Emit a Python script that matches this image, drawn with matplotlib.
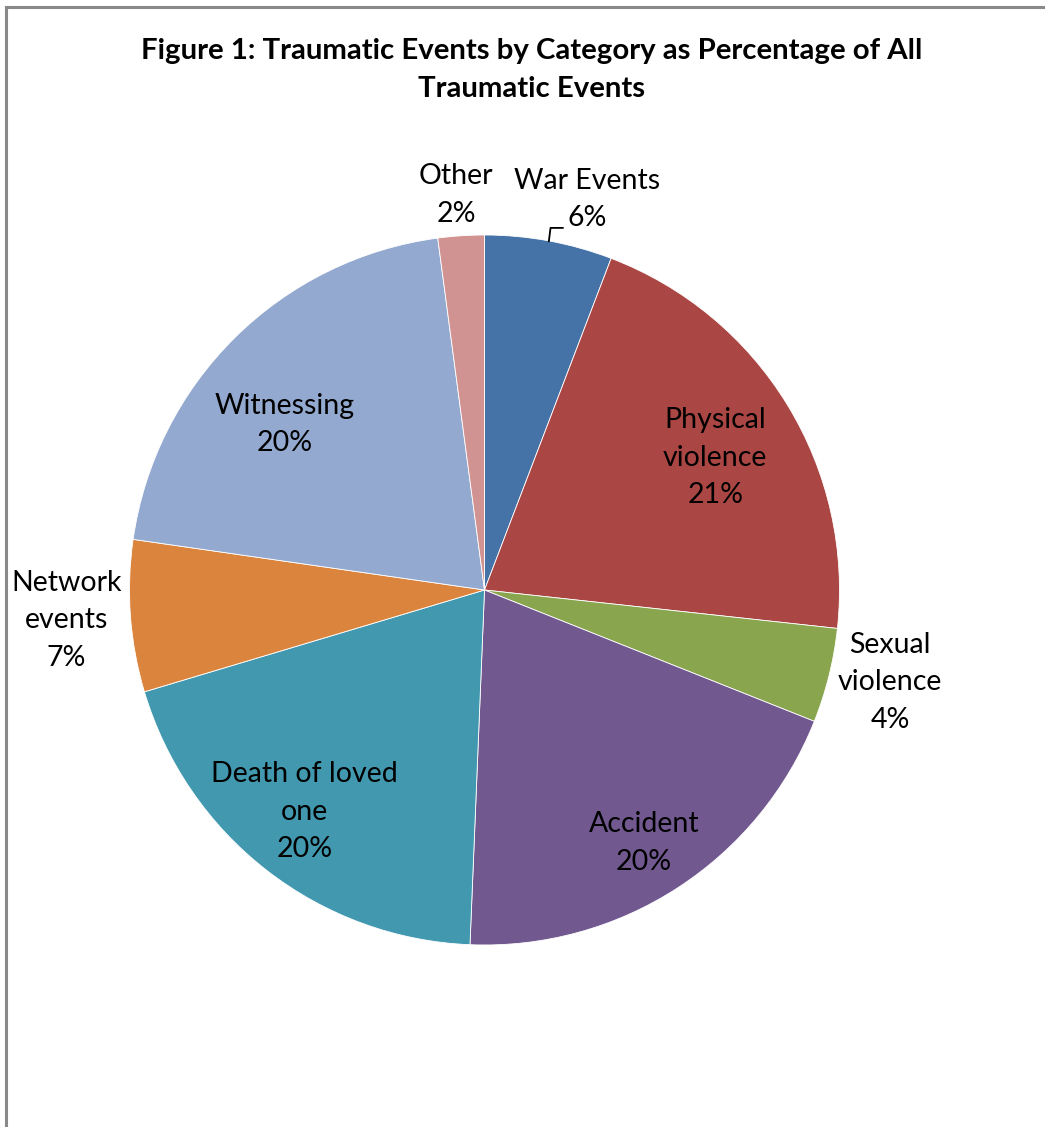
import matplotlib
matplotlib.use("Agg")
import matplotlib.pyplot as plt
import numpy as np

# ---- data ----
categories = ["War Events", "Physical\nviolence", "Sexual\nviolence", "Accident",
              "Death of loved\none", "Network\nevents", "Witnessing", "Other"]
values = [5.8, 20.9, 4.3, 19.6, 19.7, 6.9, 20.6, 2.1]
pct_labels = ["6%", "21%", "4%", "20%", "20%", "7%", "20%", "2%"]
colors = ["#4572A7", "#AA4643", "#89A54E", "#71588F",
          "#4198AF", "#DB843D", "#93A9CF", "#D19392"]
title = "Figure 1: Traumatic Events by Category as Percentage of All\nTraumatic Events"

# ---- layout ----
W, H = 1045, 1127
FONT = "Lato"
fig = plt.figure(figsize=(W / 100, H / 100), dpi=100)
fig.patch.set_facecolor("white")

cx, cy, R = 484.5, 590, 355
ax = fig.add_axes([(cx - R) / W, (H - cy - R) / H, 2 * R / W, 2 * R / H])
wedges, _ = ax.pie(values, colors=colors, startangle=90, counterclock=False,
                   radius=1.0, wedgeprops=dict(edgecolor="white", linewidth=0.6))
ax.set_xlim(-1, 1)
ax.set_ylim(-1, 1)
ax.set_aspect("equal")
ax.axis("off")

# label placement in axes data units (pie radius = 1)
label_pos = [
    (0.29, 1.10),     # War Events
    (0.65, 0.373),    # Physical violence
    (1.142, -0.26),   # Sexual violence
    (0.449, -0.712),  # Accident
    (-0.506, -0.624), # Death of loved one
    (-1.178, -0.085), # Network events
    (-0.562, 0.466),  # Witnessing
    (-0.08, 1.113),   # Other
]
for cat, pct, (x, y) in zip(categories, pct_labels, label_pos):
    ax.text(x, y, f"{cat}\n{pct}", ha="center", va="center", fontsize=20.5,
            family=FONT, color="black", linespacing=1.55, clip_on=False)

# leader line for War Events
ax.plot([0.181, 0.186, 0.223], [0.98, 1.02, 1.02], color="black", lw=1.3,
        clip_on=False, solid_capstyle="butt")

fig.text(532 / W, 1 - 70 / H, title, ha="center", va="center", fontsize=21.2,
         fontweight="bold", family=FONT, linespacing=1.6)

# chart area border (top and left visible)
fig.add_artist(plt.Line2D([5.5 / W, 5.5 / W], [0, 1 - 6.5 / H], color="#898989",
                          lw=2.2, transform=fig.transFigure))
fig.add_artist(plt.Line2D([5.5 / W, 1], [1 - 6.5 / H, 1 - 6.5 / H], color="#898989",
                          lw=2.2, transform=fig.transFigure))

fig.savefig("out.png", dpi=100, facecolor="white")
